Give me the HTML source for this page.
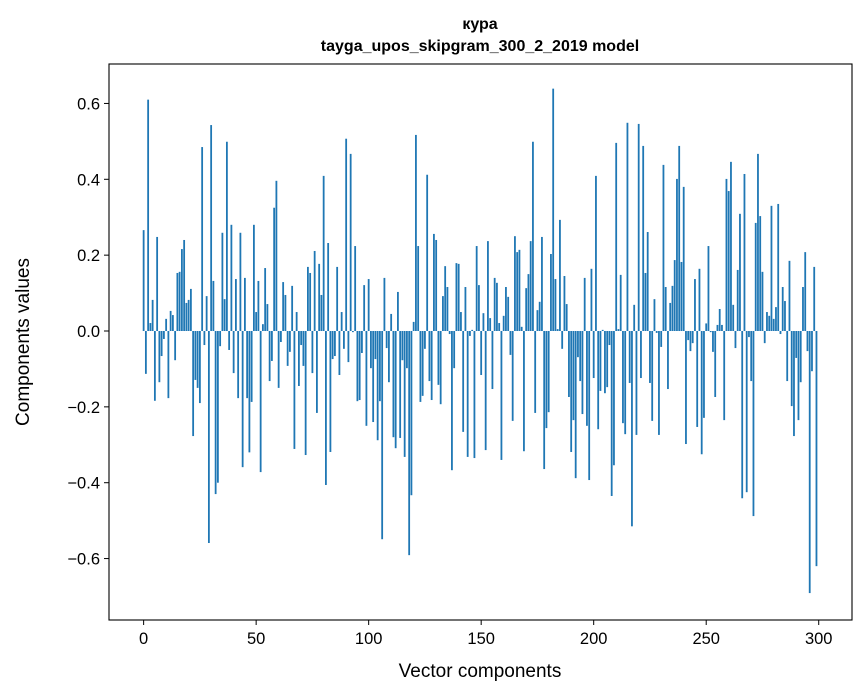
<!DOCTYPE html>
<html><head><meta charset="utf-8"><style>
html,body{margin:0;padding:0;background:#fff;}
svg{display:block;font-family:"Liberation Sans","DejaVu Sans",sans-serif;}
</style></head><body>
<svg id="chart" width="867" height="696" viewBox="0 0 867 696" xmlns="http://www.w3.org/2000/svg">
<rect width="867" height="696" fill="#fff"/>
<text x="480" y="29" text-anchor="middle" font-size="16" font-weight="bold">кура</text>
<text x="480" y="51" text-anchor="middle" font-size="16" font-weight="bold">tayga_upos_skipgram_300_2_2019 model</text>
<g id="bars"></g>
<g id="xticks"></g>
<g id="yticks"></g>
<rect x="109" y="64" width="743" height="556" fill="none" stroke="#000" stroke-width="1.1"/>
<text x="480" y="677" text-anchor="middle" font-size="19">Vector components</text>
<text x="0" y="0" transform="translate(29,342) rotate(-90)" text-anchor="middle" font-size="19">Components values</text>
</svg>
<script>
const values = [
0.266,-0.113,0.61,0.021,0.082,-0.184,0.248,-0.135,-0.066,-0.021,
0.032,-0.177,0.053,0.042,-0.077,0.153,0.156,0.216,0.24,0.074,
0.082,0.111,-0.277,-0.129,-0.15,-0.19,0.485,-0.037,0.092,-0.559,
0.543,0.132,-0.43,-0.40,-0.04,0.259,0.084,0.499,-0.05,0.28,
-0.111,0.137,-0.177,0.259,-0.359,0.14,-0.177,-0.32,-0.187,0.28,
0.05,0.132,-0.372,0.018,0.166,0.071,-0.132,-0.079,0.325,0.396,
-0.15,-0.029,0.129,0.095,-0.092,-0.055,0.119,-0.311,0.05,-0.145,
-0.037,-0.092,-0.327,0.169,0.153,-0.111,0.211,-0.216,0.177,0.095,
0.409,-0.406,0.232,-0.319,-0.074,-0.066,0.169,-0.116,0.05,-0.047,
0.507,-0.082,0.467,-0.003,0.224,-0.185,-0.182,-0.058,0.121,-0.25,
0.137,-0.098,-0.24,-0.074,-0.288,-0.185,-0.549,0.14,-0.045,-0.135,
0.045,-0.28,-0.309,0.103,-0.282,-0.077,-0.332,-0.098,-0.591,-0.433,
0.024,0.517,0.224,-0.187,-0.171,-0.047,0.412,-0.132,-0.182,0.256,
0.24,-0.142,-0.193,0.092,0.171,0.116,-0.008,-0.367,-0.098,0.179,
0.177,0.05,-0.266,0.116,-0.332,-0.013,0.003,-0.335,0.224,0.121,
-0.116,0.047,-0.314,0.237,0.034,-0.153,0.14,0.127,0.021,-0.34,
0.04,0.116,0.09,-0.063,-0.237,0.25,0.208,0.214,0.011,-0.317,
0.113,0.15,0.237,0.499,-0.216,0.055,0.077,0.248,-0.364,-0.256,
-0.214,0.203,0.639,0.137,0.005,0.293,-0.047,0.145,0.071,-0.174,
-0.319,-0.235,-0.388,-0.069,-0.132,-0.219,0.14,-0.25,-0.393,0.164,
-0.124,0.409,-0.259,-0.158,0.003,-0.164,-0.148,-0.037,-0.435,-0.354,
0.496,0.005,0.148,-0.243,-0.272,0.549,-0.137,-0.515,0.069,-0.274,
0.546,-0.124,0.488,0.153,0.261,-0.137,-0.237,0.084,-0.005,-0.274,
-0.042,0.438,0.116,-0.153,0.074,0.119,0.187,0.401,0.488,0.182,
0.38,-0.298,-0.024,-0.053,-0.032,0.137,-0.253,0.164,-0.325,-0.229,
0.02,0.224,-0.003,-0.055,-0.174,0.016,0.058,0.016,-0.235,0.401,
0.369,0.446,0.069,-0.045,0.161,0.309,-0.441,0.414,-0.425,-0.016,
-0.132,-0.488,0.285,0.467,0.303,0.156,-0.032,0.05,0.04,0.33,
0.032,0.063,0.335,-0.008,0.116,0.079,-0.132,0.185,-0.198,-0.277,
-0.071,-0.235,-0.135,0.116,0.208,-0.053,-0.691,-0.106,0.169,-0.62
];
const xTickValues = [0,50,100,150,200,250,300];
const yTickValues = [-0.6,-0.4,-0.2,0.0,0.2,0.4,0.6];
const yTickLabels = ["\u22120.6","\u22120.4","\u22120.2","0.0","0.2","0.4","0.6"];

const NS = "http://www.w3.org/2000/svg";
const L=109,R=852,T=64,B=620;
const xMin=-15.39,xMax=314.79,yMin=-0.762,yMax=0.704;
function xs(v){return L+(v-xMin)/(xMax-xMin)*(R-L);}
function ys(v){return B-(v-yMin)/(yMax-yMin)*(B-T);}

const barsG=document.getElementById('bars');
values.forEach((v,i)=>{
  const r=document.createElementNS(NS,'rect');
  const x0=xs(i-0.4),x1=xs(i+0.4);
  const y0=ys(Math.max(v,0)),y1=ys(Math.min(v,0));
  r.setAttribute('x',x0);r.setAttribute('width',x1-x0);
  r.setAttribute('y',y0);r.setAttribute('height',Math.max(y1-y0,0.01));
  r.setAttribute('fill','#1f77b4');
  
  
  barsG.appendChild(r);
});

const xg=document.getElementById('xticks');
xTickValues.forEach(t=>{
  const x=xs(t);
  const l=document.createElementNS(NS,'line');
  l.setAttribute('x1',x);l.setAttribute('x2',x);l.setAttribute('y1',B);l.setAttribute('y2',B+5);
  l.setAttribute('stroke','#000');
  
  
  xg.appendChild(l);
  const tx=document.createElementNS(NS,'text');
  tx.setAttribute('x',x);tx.setAttribute('y',B+24);tx.setAttribute('text-anchor','middle');tx.setAttribute('font-size','16.5');
  tx.textContent=String(t);
  
  
  xg.appendChild(tx);
});
const yg=document.getElementById('yticks');
yTickValues.forEach((t,i)=>{
  const y=ys(t);
  const l=document.createElementNS(NS,'line');
  l.setAttribute('x1',L-5);l.setAttribute('x2',L);l.setAttribute('y1',y);l.setAttribute('y2',y);
  l.setAttribute('stroke','#000');
  
  
  yg.appendChild(l);
  const tx=document.createElementNS(NS,'text');
  tx.setAttribute('x',L-9);tx.setAttribute('y',y+6);tx.setAttribute('text-anchor','end');tx.setAttribute('font-size','16.5');
  tx.textContent=yTickLabels[i];
  
  
  yg.appendChild(tx);
});
</script>
</body></html>
